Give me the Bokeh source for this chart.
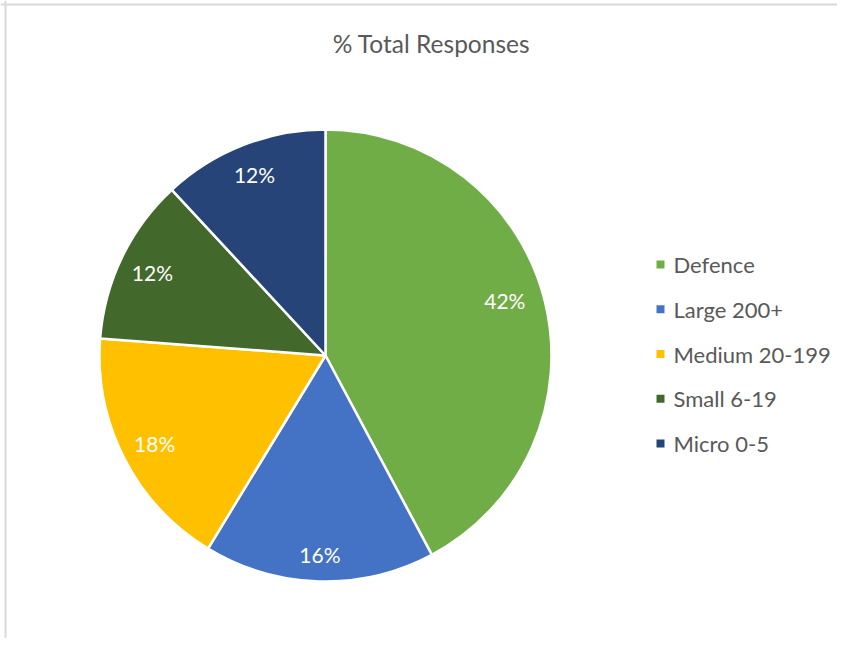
import numpy as np
from bokeh.plotting import figure
from bokeh.models import Range1d, Span, ColumnDataSource
from bokeh.core.properties import value
from bokeh.embed import file_html
from bokeh.resources import INLINE

title_text = "% Total Responses"
categories = ["Defence", "Large 200+", "Medium 20-199", "Small 6-19", "Micro 0-5"]
shares = [42.2, 16.5, 17.5, 11.9, 11.9]
labels = ["42%", "16%", "18%", "12%", "12%"]
colors = ["#70AD47", "#4472C4", "#FFC000", "#43682B", "#264478"]

W, H = 837, 638
FONT = "Lato"
p = figure(width=W, height=H, output_backend="svg", toolbar_location=None,
           x_range=Range1d(0, W), y_range=Range1d(0, H), min_border=0)
p.axis.visible = False
p.grid.visible = False
p.outline_line_color = None
p.background_fill_color = "white"

# chart-area frame (top and left edges visible)
p.add_layout(Span(location=H - 4, dimension="width", line_color="#D9D9D9", line_width=2))
p.add_layout(Span(location=5, dimension="height", line_color="#D9D9D9", line_width=2))

cx, cy, R = 325, H - 355, 226
frac = np.array(shares) / np.sum(shares)
cum = np.concatenate([[0], np.cumsum(frac)])
start = np.pi / 2 - cum[:-1] * 2 * np.pi
end = np.pi / 2 - cum[1:] * 2 * np.pi
src = ColumnDataSource(dict(start=start, end=end, color=colors, cat=categories))
p.wedge(x=cx, y=cy, radius=R, start_angle="start", end_angle="end", direction="clock",
        fill_color="color", line_color="white", line_width=2.5, source=src)

# data labels (best-fit placement inside slices)
mid = (start + end) / 2 + np.radians([3, 0, 0, 0, 0])
label_r = np.array([0.83, 0.88, 0.85, 0.85, 0.86]) * R
p.text(x=cx + label_r * np.cos(mid), y=cy + label_r * np.sin(mid), text=labels,
       text_color="white", text_font=value(FONT), text_font_size="21px",
       text_align="center", text_baseline="middle")

# title
p.text(x=[431], y=[H - 43], text=[title_text], text_color="#595959",
       text_font=value(FONT), text_font_size="24.5px",
       text_align="center", text_baseline="middle")

# legend
lx = 660
ly0 = H - 264
ly = ly0 - np.arange(len(categories)) * 44.75
p.scatter(x=[lx] * len(categories), y=ly, marker="square", size=8,
          fill_color=colors, line_color=None)
p.text(x=[lx + 13] * len(categories), y=ly, text=categories, text_color="#595959",
       text_font=value(FONT), text_font_size="22px",
       text_align="left", text_baseline="middle")

open("out.html", "w").write(file_html(p, INLINE))
